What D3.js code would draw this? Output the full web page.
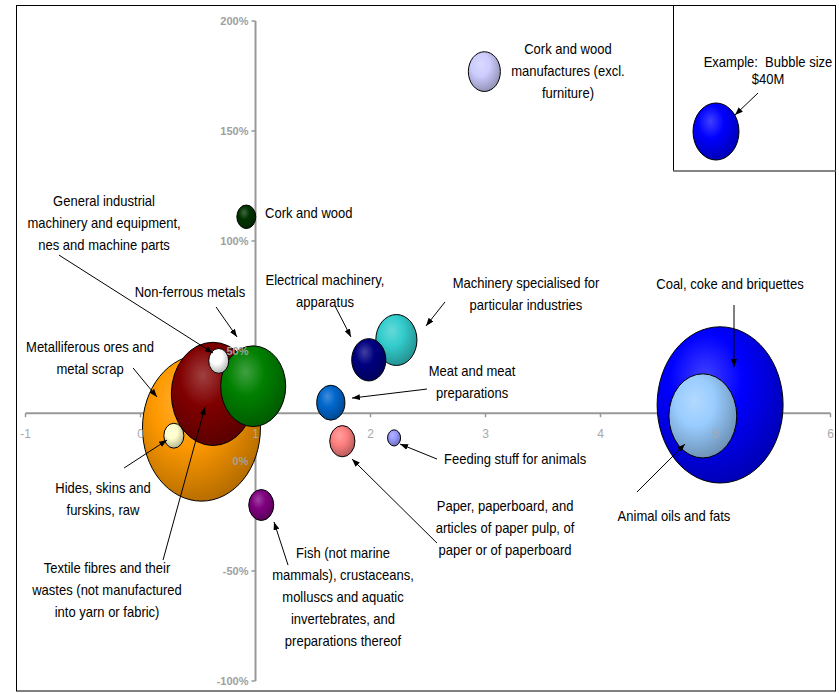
<!DOCTYPE html>
<html>
<head>
<meta charset="utf-8">
<script src="https://cdn.jsdelivr.net/npm/d3@7"></script>
<style>
  body { margin: 0; background: #fff; }
  .lbl { font-family: "Liberation Sans", Arial, sans-serif; font-size: 14px; fill: #000; white-space: pre; }
  .ytick { font-family: "Liberation Sans", Arial, sans-serif; font-size: 11px; font-weight: bold; fill: #a0a0a0; }
  .xtick { font-family: "Liberation Sans", Arial, sans-serif; font-size: 12px; fill: #a8a8a8; }
</style>
</head>
<body>
<div id="chart"></div>
<script>
////////////////////////////////////////////////////////////////////////
// Data

// product groups, one bubble each
let categories = [
  "Coal, coke and briquettes",
  "Metalliferous ores and metal scrap",
  "Textile fibres and their wastes",
  "Animal oils and fats",
  "Non-ferrous metals",
  "Machinery specialised for particular industries",
  "Electrical machinery, apparatus",
  "Cork and wood manufactures (excl. furniture)",
  "Meat and meat preparations",
  "Paper, paperboard",
  "Fish",
  "General industrial machinery",
  "Hides, skins and furskins, raw",
  "Cork and wood",
  "Feeding stuff for animals"
];
let xValues = [5.04, 0.53, 0.63, 4.89, 0.98, 2.225, 1.985, 2.99, 1.655, 1.755, 1.05, 0.68, 0.29, 0.92, 2.205];
let yValues = [0.255, 0.15, 0.305, 0.205, 0.34, 0.55, 0.46, 1.77, 0.265, 0.09, -0.20, 0.455, 0.115, 1.11, 0.105];
let sizes   = [300, 263, 131, 87, 80, 32, 22, 19.4, 15, 12, 11.8, 7.6, 7.6, 6.8, 3.2];

// bubble fill colours (same order as categories)
let palette = ["#0000ff", "#ff9900", "#800000", "#99ccff", "#008000", "#33cccc", "#000080",
               "#ccccff", "#0066cc", "#ff8080", "#800080", "#ffffff", "#ffffcc", "#003300", "#9999ff"];

// axis ticks
let xTicks = [-1, 0, 1, 2, 3, 4, 5, 6];
let yTicks = [-1, -0.5, 0, 0.5, 1, 1.5, 2];
let xCross = 1;       // y axis sits at x = 1
let yCross = 0.217;   // x axis sits at about 22%

// example bubble
let legendSize = 40;
let legendText = ["Example:  Bubble size", "$40M"];

// callout texts, anchor (data units) and arrow (data units)
let labelLines = [
  ["Cork and wood", "manufactures (excl.", "furniture)"],
  ["Cork and wood"],
  ["General industrial", "machinery and equipment,", "nes and machine parts"],
  ["Non-ferrous metals"],
  ["Electrical machinery,", "apparatus"],
  ["Machinery specialised for", "particular industries"],
  ["Meat and meat", "preparations"],
  ["Feeding stuff for animals"],
  ["Paper, paperboard, and", "articles of paper pulp, of", "paper or of paperboard"],
  ["Animal oils and fats"],
  ["Coal, coke and briquettes"],
  ["Metalliferous ores and", "metal scrap"],
  ["Hides, skins and", "furskins, raw"],
  ["Textile fibres and their", "wastes (not manufactured", "into yarn or fabric)"],
  ["Fish (not marine", "mammals), crustaceans,", "molluscs and aquatic", "invertebrates, and", "preparations thereof"]
];
let labelX = [3.717, 1.083, -0.317, 0.43, 1.604, 3.352, 2.883, 3.257, 3.17, 4.639, 5.126, -0.439, -0.326, -0.291, 1.761];
let labelY = [1.873, 1.127, 1.182, 0.768, 0.823, 0.809, 0.409, 0.009, -0.205, -0.25, 0.805, 0.518, -0.123, -0.486, -0.418];
let labelAnchor = ["middle", "start", "middle", "middle", "middle", "middle", "middle", "middle",
                   "middle", "middle", "middle", "middle", "middle", "middle", "middle"];
// arrows: [x1, y1, x2, y2], null for none
let arrows = [
  null,
  null,
  [-0.709, 0.936, 0.63, 0.491],
  [0.657, 0.70, 0.839, 0.564],
  [1.691, 0.705, 1.83, 0.564],
  [2.648, 0.723, 2.483, 0.614],
  [2.491, 0.327, 1.839, 0.286],
  [2.578, 0.009, 2.257, 0.077],
  [2.578, -0.373, 1.839, 0.009],
  [4.317, -0.141, 4.735, 0.077],
  [5.161, 0.709, 5.161, 0.427],
  [-0.065, 0.423, 0.143, 0.291],
  [-0.143, -0.032, 0.23, 0.095],
  [0.196, -0.45, 0.561, 0.245],
  [1.283, -0.473, 1.161, -0.277]
];


////////////////////////////////////////////////////////////////////////
// Layout

let width = 839, height = 693;
let svg = d3.select("#chart").append("svg")
  .attr("width", width)
  .attr("height", height);

let xScale = d3.scaleLinear().domain([-1, 6]).range([25.5, 830.5]);
let yScale = d3.scaleLinear().domain([-1, 2]).range([681, 21]);
let rScale = d3.scaleSqrt().domain([0, legendSize]).range([0, 23]);
let squash = 1.24;   // bubbles are taller than wide in the picture

let defs = svg.append("defs");

// 3d look for bubbles
function gradId(c, i) { return "g" + i; }
palette.forEach(function(c, i) {
  let g = defs.append("radialGradient")
    .attr("id", gradId(c, i))
    .attr("cx", "40%").attr("cy", "35%").attr("r", "72%")
    .attr("fx", "38%").attr("fy", "32%");
  let base = d3.rgb(c);
  g.append("stop").attr("offset", "0%").attr("stop-color", d3.interpolateRgb(base, "#fff")(0.25));
  g.append("stop").attr("offset", "40%").attr("stop-color", base.formatHex());
  g.append("stop").attr("offset", "100%").attr("stop-color", base.darker(1.1).formatHex());
});

defs.append("marker")
  .attr("id", "arrow")
  .attr("viewBox", "0 0 8 6")
  .attr("refX", 8).attr("refY", 3)
  .attr("markerWidth", 8).attr("markerHeight", 6)
  .attr("markerUnits", "userSpaceOnUse")
  .attr("orient", "auto")
  .append("path")
  .attr("d", "M0,0 L8,3 L0,6 Z")
  .attr("fill", "#000");

// outer frame
svg.append("rect")
  .attr("x", 16.5).attr("y", 5.5)
  .attr("width", 819).attr("height", 685.5)
  .attr("fill", "none").attr("stroke", "#000");

// axis lines (behind bubbles)
let axisColor = "#999";
svg.append("line")
  .attr("x1", xScale(-1)).attr("x2", xScale(6))
  .attr("y1", yScale(yCross)).attr("y2", yScale(yCross))
  .attr("stroke", axisColor).attr("stroke-width", 2);
svg.append("line")
  .attr("x1", xScale(xCross)).attr("x2", xScale(xCross))
  .attr("y1", yScale(2)).attr("y2", yScale(-1))
  .attr("stroke", axisColor).attr("stroke-width", 2);

svg.append("g").selectAll("line")
  .data(xTicks)
  .join("line")
  .attr("x1", d => xScale(d)).attr("x2", d => xScale(d))
  .attr("y1", yScale(yCross)).attr("y2", yScale(yCross) + 4)
  .attr("stroke", axisColor).attr("stroke-width", 1.5);
svg.append("g").selectAll("line")
  .data(yTicks)
  .join("line")
  .attr("x1", xScale(xCross) - 4).attr("x2", xScale(xCross))
  .attr("y1", d => yScale(d)).attr("y2", d => yScale(d))
  .attr("stroke", axisColor).attr("stroke-width", 1.5);

// bubbles, biggest first
let bubbles = categories.map((c, i) => ({
  name: c, x: xValues[i], y: yValues[i], size: sizes[i], i: i
})).sort((a, b) => b.size - a.size);

svg.append("g").selectAll("ellipse")
  .data(bubbles)
  .join("ellipse")
  .attr("cx", d => xScale(d.x))
  .attr("cy", d => yScale(d.y))
  .attr("rx", d => rScale(d.size))
  .attr("ry", d => rScale(d.size) * squash)
  .attr("fill", d => "url(#" + gradId(palette[d.i], d.i) + ")")
  .attr("stroke", "#000")
  .attr("stroke-width", 1);

// tick labels on top
svg.append("g").selectAll("text")
  .data(xTicks)
  .join("text")
  .attr("class", "xtick")
  .attr("x", d => xScale(d))
  .attr("y", yScale(yCross) + 25)
  .attr("text-anchor", "middle")
  .text(d => d);
svg.append("g").selectAll("text")
  .data(yTicks)
  .join("text")
  .attr("class", "ytick")
  .attr("x", xScale(xCross) - 7)
  .attr("y", d => yScale(d) + 4)
  .attr("text-anchor", "end")
  .text(d => Math.round(d * 100) + "%");

// callouts
let lineH = 22;
labelLines.forEach(function(lines, i) {
  let g = svg.append("g")
    .attr("transform", `translate(${xScale(labelX[i])},${yScale(labelY[i])}) scale(0.93,1)`);
  g.append("text")
    .attr("class", "lbl")
    .attr("text-anchor", labelAnchor[i])
    .selectAll("tspan")
    .data(lines)
    .join("tspan")
    .attr("x", 0)
    .attr("y", (d, k) => k * lineH + 5)
    .text(d => d);
  let a = arrows[i];
  if (a) {
    svg.append("line")
      .attr("x1", xScale(a[0])).attr("y1", yScale(a[1]))
      .attr("x2", xScale(a[2])).attr("y2", yScale(a[3]))
      .attr("stroke", "#000").attr("stroke-width", 1)
      .attr("marker-end", "url(#arrow)");
  }
});

// legend box with example bubble
let lg = svg.append("g").attr("transform", "translate(673,5)");
lg.append("path")
  .attr("d", "M0.5,0 V166 H163")
  .attr("fill", "none").attr("stroke", "#000");
lg.append("line")
  .attr("x1", 0).attr("x2", 163).attr("y1", 166).attr("y2", 166)
  .attr("stroke", "#888");
let lgText = lg.append("g").attr("transform", "translate(95,62) scale(0.93,1)");
lgText.append("text")
  .attr("class", "lbl")
  .attr("text-anchor", "middle")
  .selectAll("tspan")
  .data(legendText)
  .join("tspan")
  .attr("x", 0)
  .attr("y", (d, k) => k * 17)
  .text(d => d);
lg.append("ellipse")
  .attr("cx", 43).attr("cy", 126.5)
  .attr("rx", rScale(legendSize))
  .attr("ry", rScale(legendSize) * squash)
  .attr("fill", "url(#g0)")
  .attr("stroke", "#000");
lg.append("line")
  .attr("x1", 85).attr("y1", 88).attr("x2", 62).attr("y2", 110)
  .attr("stroke", "#000")
  .attr("marker-end", "url(#arrow)");
</script>
</body>
</html>
